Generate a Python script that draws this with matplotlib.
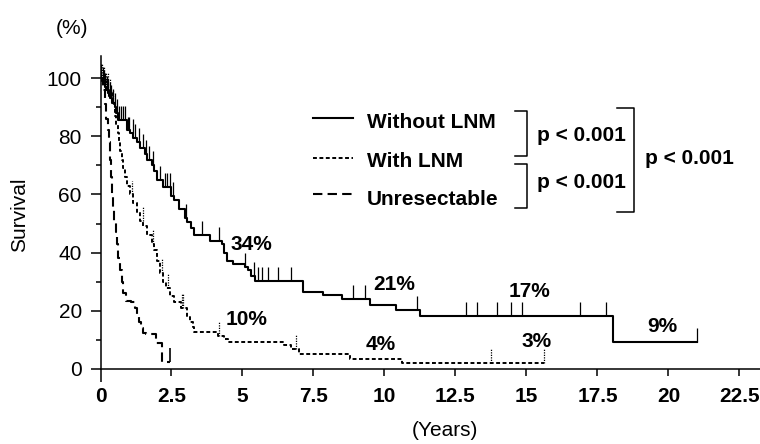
import numpy as np
import matplotlib
matplotlib.use('Agg')
from matplotlib import pyplot as plt
from matplotlib.lines import Line2D
from matplotlib.ticker import MultipleLocator

# survival curves (years, % surviving from that time on)
without_t = [0, 0.05, 0.1, 0.15, 0.2, 0.25, 0.3, 0.35, 0.42, 0.5, 0.55, 0.6, 0.95,
             1.05, 1.15, 1.3, 1.4, 1.55, 1.65, 1.8, 1.9, 2.0, 2.2, 2.5, 2.6, 2.75,
             2.96, 3.05, 3.2, 3.3, 3.84, 4.27, 4.35, 4.44, 4.65, 5.08, 5.2, 5.3, 5.43,
             7.12, 7.83, 8.5, 9.49, 10.4, 11.25, 18.05, 21.0]
without_s = [100, 99, 98, 97, 96, 95, 94, 93, 91.5, 90, 88, 85.5, 82,
             81, 79.5, 78, 76, 74, 72, 70, 68, 65, 62.5, 59.5, 58, 55,
             52, 50.5, 48.5, 46, 44, 43, 40, 37, 36, 35, 34, 32, 30.3,
             26.5, 25.3, 24, 22, 20.2, 18.2, 9.3, 9.3]
without_cens = [0.03, 0.08, 0.12, 0.17, 0.22, 0.27, 0.32, 0.37, 0.45, 0.52, 0.58,
                0.65, 0.72, 0.8, 0.88, 0.96, 1.02, 1.13, 1.2, 1.35, 1.48, 1.59, 1.7,
                1.85, 2.1, 2.26, 2.35, 2.43, 2.57, 3.0, 3.56, 4.19, 5.1, 5.4, 5.54,
                5.69, 5.9, 6.24, 6.71, 8.9, 9.3, 11.15, 12.87, 13.26, 13.96, 14.46,
                14.85, 16.9, 17.8, 21.0]

with_t = [0, 0.1, 0.2, 0.3, 0.4, 0.5, 0.55, 0.6, 0.65, 0.7, 0.75, 0.8, 0.88, 0.95,
          1.05, 1.15, 1.3, 1.4, 1.5, 1.65, 1.8, 1.9, 2.0, 2.1, 2.2, 2.3, 2.45, 2.6,
          2.85, 3.05, 3.15, 3.25, 3.3, 4.15, 4.35, 4.5, 6.45, 6.7, 7.0, 8.8, 10.6, 15.6]
with_s = [100, 99, 97, 95, 91, 87, 84, 81, 78, 75, 72, 69, 66, 63,
          60, 57, 54, 51, 49, 46, 43, 41, 37, 33, 30, 28, 25, 23,
          21, 18, 16, 14.5, 12.7, 11.3, 10.3, 9.3, 8.2, 7.0, 5.2, 3.4, 2.1, 2.1]
with_cens = [0.05, 0.12, 0.2, 0.28, 0.35, 0.45, 1.1, 1.48, 1.85, 2.15, 2.36, 2.86,
             2.92, 4.19, 6.9, 13.75, 15.6]

unres_t = [0, 0.08, 0.15, 0.2, 0.25, 0.3, 0.33, 0.36, 0.39, 0.43, 0.47, 0.53, 0.58,
           0.63, 0.68, 0.75, 0.8, 0.9, 1.06, 1.2, 1.3, 1.36, 1.42, 1.48, 1.6, 1.94,
           2.18, 2.46]
unres_s = [100, 96, 91, 86, 82, 78, 72, 66, 60, 55, 51, 47, 43,
           38, 34, 30, 26, 23.5, 23, 21, 19, 16, 14, 12.5, 12, 9,
           2.4, 2.4]
unres_cens = [2.46]

x_ticks = [0, 2.5, 5, 7.5, 10, 12.5, 15, 17.5, 20, 22.5]
x_labels = ['0', '2.5', '5', '7.5', '10', '12.5', '15', '17.5', '20', '22.5']

groups = ['Without LNM', 'With LNM', 'Unresectable']
p_values = ['p < 0.001', 'p < 0.001', 'p < 0.001']
pct_labels = ['34%', '21%', '17%', '9%', '10%', '4%', '3%']

plt.close('all')
plt.rcParams['font.family'] = ['Liberation Sans', 'DejaVu Sans']
plt.rcParams['font.size'] = 15

W, H = 760, 444


def fx(x):
    return x / W


def fy(y):
    return 1 - y / H


def surv_at(ts, ss, t):
    i = np.searchsorted(ts, t, side='right') - 1
    return np.asarray(ss)[i]


fig = plt.figure(figsize=(7.6, 4.44), dpi=100)
ax = fig.add_axes([fx(100.5), fy(369), 660 / W, 313 / H])

solid = dict(color='k', lw=1.5)
dotted = dict(color='k', lw=1.4, linestyle=(0, (2, 1.3)))
dashed = dict(color='k', lw=1.5, linestyle=(0, (4.5, 2.5)))

ax.step(without_t, without_s, where='post', **solid)
ax.step(with_t, with_s, where='post', **dotted)
ax.step(unres_t, unres_s, where='post', **dashed)

# censor marks
tick_h = 4.8
c = np.array(without_cens)
s = surv_at(without_t, without_s, c)
ax.vlines(c, s, s + tick_h, colors='k', lw=0.9)
c = np.array(with_cens)
s = surv_at(with_t, with_s, c)
ax.vlines(c, s, s + tick_h, colors='k', lw=0.9, linestyles=(0, (1, 1)))
c = np.array(unres_cens)
s = surv_at(unres_t, unres_s, c)
ax.vlines(c, s, s + tick_h, colors='k', lw=1.2)

ax.set_xlim(0, 23.24)
ax.set_ylim(0, 107.6)
for side in ['top', 'right']:
    ax.spines[side].set_visible(False)
for side in ['left', 'bottom']:
    ax.spines[side].set_linewidth(1.1)

ax.set_xticks(x_ticks)
ax.set_xticklabels(x_labels, fontweight='bold')
ax.yaxis.set_major_locator(MultipleLocator(20))
ax.yaxis.set_minor_locator(MultipleLocator(10))
ax.tick_params(axis='x', direction='out', length=5, width=1.1, pad=8)
ax.tick_params(axis='y', which='major', direction='out', length=7, width=1.1, pad=6.5)
ax.tick_params(axis='y', which='minor', direction='out', length=3.6, width=1.1)
ax.xaxis.get_major_ticks()[0].tick1line.set_markersize(9)

fig.text(fx(72), fy(28), '(%)', ha='center', va='center')
fig.text(fx(20), fy(215), 'Survival', ha='center', va='center', rotation=90)
fig.text(fx(445), fy(430), '(Years)', ha='center', va='center')

# legend
leg_y = [118, 158, 194]
leg_base = [128, 167, 205]
for ls, yl, yb, name in zip([solid, dotted, dashed], leg_y, leg_base, groups):
    fig.add_artist(Line2D([fx(313), fx(353)], [fy(yl), fy(yl)], **ls))
    fig.text(fx(367), fy(yb), name, ha='left', va='baseline', fontweight='bold')

# comparison brackets
brackets = [(515, 527, 111, 156), (515, 527, 164, 208), (617, 634, 108, 212)]
for x0, x1, y0, y1 in brackets:
    fig.add_artist(Line2D([fx(x0), fx(x1), fx(x1), fx(x0)],
                          [fy(y0), fy(y0), fy(y1), fy(y1)], color='k', lw=1.1))
p_pos = [(581, 141), (581, 188), (689, 164)]
for (px, py), p in zip(p_pos, p_values):
    fig.text(fx(px), fy(py), p, ha='center', va='baseline', fontweight='bold')

# survival percentages on the curves
pct_pos = [(251, 250), (394, 290), (529, 297), (662, 332), (247, 325), (381, 350), (537, 347)]
for (px, py), t in zip(pct_pos, pct_labels):
    fig.text(fx(px), fy(py), t, ha='center', va='baseline', fontweight='bold')

plt.savefig('out.png', dpi=100, facecolor='white')
